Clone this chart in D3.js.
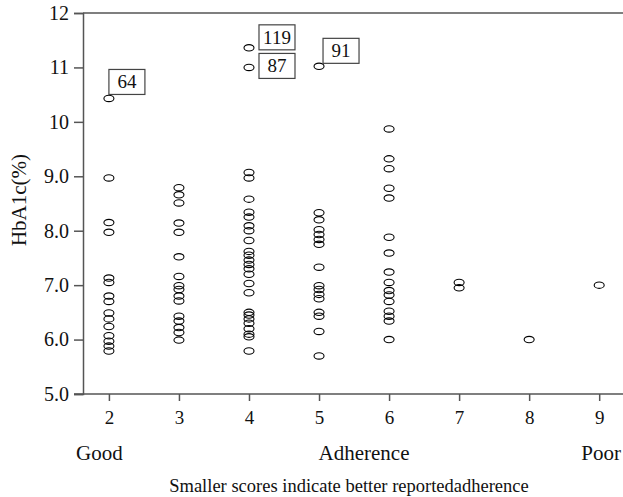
<!DOCTYPE html>
<html>
<head>
<meta charset="utf-8">
<script src="https://cdn.jsdelivr.net/npm/d3@7"></script>
<style>
  body { margin: 0; background: #fff; }
  svg { display: block; font-family: "Liberation Serif", "Times New Roman", serif; }
</style>
</head>
<body>
<script>
// adherence score columns and the HbA1c readings in each
var scores = [2, 3, 4, 5, 6, 7, 8, 9];
var hba1cByScore = [
  [10.43, 8.97, 8.15, 7.97, 7.13, 7.05, 6.8, 6.7, 6.49, 6.38, 6.24, 6.07, 5.97, 5.88, 5.79],
  [8.79, 8.66, 8.51, 8.14, 7.97, 7.52, 7.16, 6.99, 6.92, 6.8, 6.71, 6.43, 6.34, 6.22, 6.13, 5.99],
  [11.36, 11.0, 9.07, 8.97, 8.58, 8.34, 8.25, 8.09, 8.0, 7.82, 7.62, 7.55, 7.46, 7.38, 7.3, 7.2, 7.03, 6.86, 6.5, 6.45, 6.38, 6.3, 6.2, 6.1, 6.05, 5.79],
  [11.02, 8.33, 8.2, 8.02, 7.93, 7.84, 7.75, 7.33, 6.99, 6.92, 6.83, 6.75, 6.5, 6.43, 6.15, 5.7],
  [9.87, 9.32, 9.14, 8.78, 8.6, 7.88, 7.59, 7.24, 7.05, 6.9, 6.82, 6.7, 6.52, 6.43, 6.34, 6.0],
  [7.05, 6.95],
  [6.0],
  [7.0]
];
// labelled outliers (patient ids)
var outlierIds = ["64", "119", "87", "91"];
var outlierScores = [2, 4, 4, 5];
var outlierValues = [10.43, 11.36, 11.0, 11.02];

var yTicks = [5, 6, 7, 8, 9, 10, 11, 12];
var yTickLabels = ["5.0", "6.0", "7.0", "8.0", "9.0", "10", "11", "12"];

// where each id box sits relative to its point
var boxOffset = { "64": [0, -29], "119": [10, -23], "87": [10, -14], "91": [4, -28] };

var W = 623, H = 497;
var plotL = 83, plotR = 623, plotT = 13, plotB = 394;

var svg = d3.select("body").append("svg")
    .attr("width", W)
    .attr("height", H);

var x = d3.scaleLinear().domain([1.63, 9.34]).range([plotL, plotR]);
var y = d3.scaleLinear().domain([5, 12]).range([plotB, plotT]);

var axisColor = "#555";

// y axis
var yAxis = svg.append("g")
    .attr("transform", "translate(" + plotL + ",0)")
    .call(d3.axisLeft(y).tickValues(yTicks).tickSize(9).tickPadding(5)
      .tickFormat(function(d, i) { return yTickLabels[i]; }));
yAxis.select(".domain").attr("stroke", axisColor).attr("stroke-width", 1.5);
yAxis.selectAll(".tick line").attr("stroke", axisColor).attr("stroke-width", 1.5);
yAxis.selectAll(".tick text").attr("font-size", 20).attr("fill", "#111")
    .attr("font-family", "Liberation Serif");

// x axis
var xAxis = svg.append("g")
    .attr("transform", "translate(0," + plotB + ")")
    .call(d3.axisBottom(x).tickValues(scores).tickSize(7).tickPadding(10)
      .tickFormat(d3.format("d")));
xAxis.select(".domain").attr("stroke", axisColor).attr("stroke-width", 1.5)
    .attr("d", "M" + (plotL - 9) + ",0H" + plotR);
xAxis.selectAll(".tick line").attr("stroke", axisColor).attr("stroke-width", 1.5);
xAxis.selectAll(".tick text").attr("font-size", 19).attr("fill", "#111")
    .attr("font-family", "Liberation Serif");

// top frame line
svg.append("line")
    .attr("x1", plotL).attr("x2", plotR)
    .attr("y1", y(12)).attr("y2", y(12))
    .attr("stroke", axisColor).attr("stroke-width", 1.5);

// points
var pts = [];
scores.forEach(function(s, i) {
  hba1cByScore[i].forEach(function(v) { pts.push({ score: s, v: v }); });
});

svg.append("g").selectAll("ellipse")
  .data(pts)
  .join("ellipse")
    .attr("cx", function(d) { return x(d.score); })
    .attr("cy", function(d) { return y(d.v); })
    .attr("rx", 5)
    .attr("ry", 3.2)
    .attr("fill", "none")
    .attr("stroke", "#000")
    .attr("stroke-width", 1.1);

// id boxes
var boxes = svg.append("g").selectAll("g")
  .data(outlierIds)
  .join("g")
    .attr("transform", function(id, i) {
      var o = boxOffset[id];
      return "translate(" + (x(outlierScores[i]) + o[0]) + "," + (y(outlierValues[i]) + o[1]) + ")";
    });
boxes.append("rect")
    .attr("width", 36).attr("height", 25)
    .attr("fill", "#fff")
    .attr("stroke", "#444")
    .attr("stroke-width", 1.2);
boxes.append("text")
    .attr("x", 18).attr("y", 19)
    .attr("text-anchor", "middle")
    .attr("font-size", 19)
    .attr("fill", "#111")
    .text(function(d) { return d; });

// axis titles
svg.append("text")
    .attr("transform", "translate(26,200) rotate(-90)")
    .attr("text-anchor", "middle")
    .attr("font-size", 21)
    .attr("fill", "#111")
    .text("HbA1c(%)");

svg.append("text").attr("x", 76).attr("y", 460)
    .attr("font-size", 21).attr("fill", "#111").text("Good");
svg.append("text").attr("x", 364).attr("y", 460).attr("text-anchor", "middle")
    .attr("font-size", 21).attr("fill", "#111").text("Adherence");
svg.append("text").attr("x", 621).attr("y", 460).attr("text-anchor", "end")
    .attr("font-size", 21).attr("fill", "#111").text("Poor");

svg.append("text").attr("x", 349).attr("y", 492).attr("text-anchor", "middle")
    .attr("font-size", 18.5).attr("fill", "#111")
    .text("Smaller scores indicate better reportedadherence");
</script>
</body>
</html>
